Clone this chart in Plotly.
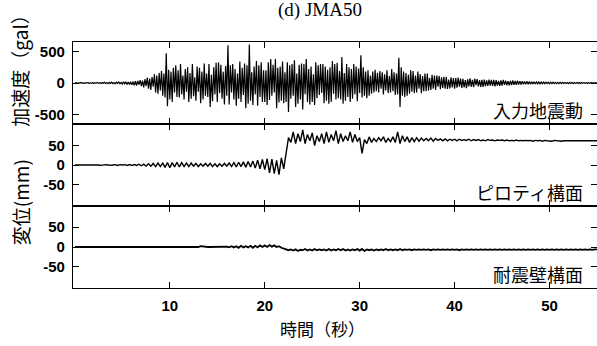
import numpy as np
import plotly.graph_objects as go
from plotly.subplots import make_subplots

# Sampling intervals of the records (s)
DT_ACCEL = 0.125
DT_DISP = 0.25

# Input ground acceleration (gal), 8 samples per second, one row per second
accel_gal = [
    0, 4, -6, 3, -2, 7, -5, 2,
    -4, 6, -3, 8, -7, 3, -5, 6,
    -8, 5, -3, 9, -6, 4, -9, 7,
    -5, 10, -8, 4, -11, 9, -6, 12,
    -10, 8, -14, 12, -7, 15, -12, 9,
    -16, 20, -12, 18, -22, 15, -25, 20,
    -30, 22, -35, 28, -40, 32, -26, 45,
    -50, 38, -70, 60, -45, 85, -90, 70,
    -110, 95, -60, 140, -150, 120, -170, 160,
    -120, 190, -200, 150, -230, 470, -370, 210,
    -260, 180, -300, 240, -150, 280, -220, 200,
    -230, 300, -180, 120, -260, 220, -140, 250,
    -300, 160, -250, 300, -210, 90, -280, 260,
    -140, 240, -320, 180, -260, 310, -200, 150,
    -220, 300, -380, 130, -290, 250, -180, 320,
    -300, 330, -160, 290, -250, 180, -340, 270,
    -200, 600, -340, 280, -150, 300, -260, 220,
    -360, 150, -250, 340, -300, 240, -190, 310,
    -400, 280, -330, 610, -280, 170, -350, 260,
    -180, 350, -360, 280, -220, 330, -300, 200,
    -300, 200, -350, 330, -270, 380, -200, 290,
    -150, 380, -400, 240, -310, 260, -280, 340,
    -320, 170, -300, 330, -460, 280, -250, 300,
    -200, 360, -380, 150, -330, 290, -260, 310,
    -420, 300, -180, 380, -300, 220, -340, 260,
    -300, 140, -350, 330, -240, 280, -190, 300,
    -160, 300, -320, 260, -280, 210, -330, 250,
    -300, 350, -170, 300, -260, 320, -240, 190,
    -260, 410, -330, 160, -280, 300, -220, 250,
    -300, 220, -250, 300, -180, 260, -290, 230,
    -160, 440, -230, 250, -200, 180, -240, 200,
    -200, 120, -170, 180, -150, 210, -130, 160,
    -150, 190, -90, 170, -180, 140, -120, 200,
    -160, 110, -150, 220, -130, 170, -190, 150,
    -180, 400, -380, 250, -200, 180, -220, 160,
    -200, 130, -170, 200, -140, 190, -160, 120,
    -150, 180, -90, 140, -160, 110, -130, 150,
    -130, 150, -120, 80, -110, 130, -90, 120,
    -110, 120, -60, 110, -100, 90, -80, 100,
    -90, 100, -95, 55, -85, 90, -70, 80,
    -90, 80, -75, 85, -60, 70, -80, 65,
    -70, 45, -80, 60, -55, 75, -60, 50,
    -65, 70, -35, 60, -55, 45, -60, 50,
    -60, 55, -50, 40, -45, 55, -40, 50,
    -45, 50, -55, 45, -40, 35, -45, 40,
    -40, 48, -30, 38, -35, 30, -38, 32,
    -35, 40, -30, 32, -28, 35, -25, 30,
    -25, 28, -22, 24, -20, 26, -18, 22,
    -18, 20, -16, 18, -15, 17, -14, 16,
    -14, 15, -12, 14, -11, 13, -10, 12,
    -12, 13, -10, 12, -9, 11, -10, 9,
    -10, 11, -9, 10, -8, 9, -7, 8,
    -9, 10, -8, 9, -7, 8, -6, 7,
    -8, 9, -7, 8, -6, 7, -6, 6,
    -7, 8, -6, 7, -5, 6, -5, 5,
    0,
]

# Piloti frame displacement (mm), 4 samples per second
disp_piloti_mm = [
    0, 0, 0, 0,
    0, 0, 0, 0,
    0, 1, 0, -1,
    0, 1, 0, -1,
    0, 1, -1, 1,
    0, 1, -1, 1,
    -1, 1, -1, 2,
    -2, 2, -3, 3,
    -3, 4, -4, 5,
    -4, 5, -6, 6,
    -7, 6, -5, 7,
    -5, 6, -4, 5,
    -4, 5, -3, 4,
    -4, 3, -3, 4,
    -3, 4, -4, 3,
    -4, 3, -3, 4,
    -3, 5, -4, 6,
    -5, 7, -4, 8,
    -6, 9, -5, 10,
    -8, 12, -10, 14,
    -12, 16, -20, 15,
    -22, 12, -25, 18,
    -10, 35, 70, 58,
    85, 55, 80, 60,
    90, 55, 78, 62,
    82, 50, 75, 60,
    80, 55, 85, 58,
    78, 62, 88, 55,
    80, 60, 75, 62,
    85, 58, 78, 60,
    70, 30, 65, 55,
    72, 58, 68, 60,
    70, 62, 72, 58,
    68, 60, 72, 58,
    85, 55, 75, 60,
    72, 58, 70, 60,
    70, 61, 69, 62,
    68, 62, 69, 61,
    68, 63, 67, 62,
    67, 62, 66, 63,
    66, 62, 66, 63,
    65, 63, 66, 62,
    65, 63, 65, 62,
    64, 62, 65, 63,
    64, 62, 64, 63,
    64, 62, 64, 62,
    63, 62, 64, 62,
    63, 62, 63, 62,
    63, 61, 63, 62,
    63, 61, 63, 62,
    62, 61, 63, 62,
    62, 61, 62, 62,
    62, 61, 62, 61,
    62, 61, 62, 61,
    62, 61, 62, 61,
    62,
]

# Shear wall frame displacement (mm), 4 samples per second
disp_wall_mm = [
    0, 0, 0, 0,
    0, 0, 0, 0,
    0, 0, 0, 0,
    0, 0, 0, 0,
    0, 0, 0, 0,
    0, 0, 0, 0,
    0, 0, 0, 0,
    0, 0, 0, 0,
    0, 0, 0, 0,
    0, 0, 0, 0,
    0, 0, 0, 0,
    0, 0, 0, 0,
    0, 0, 0, 0,
    0, 2, 1, 0,
    0, 0, 0, 0,
    0, 1, 0, 0,
    1, -1, 2, -1,
    2, -2, 3, -1,
    2, -1, 3, -2,
    3, -1, 4, 0,
    4, 0, 5, 1,
    4, 0, 2, -2,
    -4, -7, -8, -6,
    -9, -6, -10, -7,
    -8, -5, -9, -6,
    -9, -5, -8, -6,
    -8, -6, -9, -5,
    -9, -6, -8, -5,
    -8, -5, -9, -6,
    -9, -6, -8, -5,
    -9, -5, -10, -6,
    -8, -6, -9, -6,
    -8, -6, -8, -5,
    -8, -6, -8, -6,
    -8, -5, -8, -6,
    -7, -6, -8, -6,
    -7, -6, -7, -6,
    -7, -6, -8, -6,
    -7, -6, -7, -6,
    -7, -6, -7, -6,
    -7, -6, -8, -6,
    -7, -6, -7, -6,
    -7, -6, -7, -6,
    -7, -6, -7, -6,
    -7, -6, -7, -6,
    -7, -6, -7, -6,
    -7, -6, -7, -6,
    -7, -6, -7, -6,
    -7, -6, -7, -6,
    -7, -6, -7, -6,
    -7, -6, -7, -6,
    -7, -6, -7, -6,
    -7, -6, -7, -6,
    -7, -6, -7, -6,
    -7, -6, -7, -6,
    -6,
]

time_accel = np.arange(len(accel_gal)) * DT_ACCEL
time_disp = np.arange(len(disp_piloti_mm)) * DT_DISP

x_ticks = [10, 20, 30, 40, 50]
accel_ticks = [500, 0, -500]
accel_ticktext = ["500", "0", "-500"]
disp_ticks = [50, 0, -50]
disp_ticktext = ["50", "0", "-50"]

panel_labels = ["入力地震動", "ピロティ構面", "耐震壁構面"]

fig = make_subplots(rows=3, cols=1, shared_xaxes=True, vertical_spacing=0)

fig.add_trace(go.Scatter(x=time_accel, y=accel_gal, mode="lines",
                         line=dict(color="black", width=1.2)), row=1, col=1)
fig.add_trace(go.Scatter(x=time_disp, y=disp_piloti_mm, mode="lines",
                         line=dict(color="black", width=1.4)), row=2, col=1)
fig.add_trace(go.Scatter(x=time_disp, y=disp_wall_mm, mode="lines",
                         line=dict(color="black", width=1.8)), row=3, col=1)

tick_font = dict(family="Liberation Sans", size=15, color="black", weight="bold")

for r in (1, 2, 3):
    fig.update_xaxes(
        range=[-0.2, 55], tickvals=x_ticks, ticks="inside", ticklen=6,
        tickwidth=1.3, tickcolor="black", showline=True, linecolor="black",
        linewidth=1.2, mirror="ticks", showgrid=False, zeroline=False,
        tickfont=tick_font, ticklabelstandoff=4, row=r, col=1,
    )

fig.update_yaxes(range=[-650, 650], tickvals=accel_ticks, ticktext=accel_ticktext,
                 row=1, col=1)
fig.update_yaxes(range=[-105, 105], tickvals=disp_ticks, ticktext=disp_ticktext,
                 row=2, col=1)
fig.update_yaxes(range=[-103, 103], tickvals=disp_ticks, ticktext=disp_ticktext,
                 row=3, col=1)
fig.update_yaxes(ticks="inside", ticklen=6, tickwidth=1.3, tickcolor="black",
                 showline=True, linecolor="black", linewidth=1.2, mirror="ticks",
                 showgrid=False, zeroline=False, tickfont=tick_font,
                 ticklabelstandoff=4)

cjk = "Noto Sans CJK JP"
annotations = [
    dict(text="(d) JMA50", x=0.471, y=1.13, xref="paper", yref="paper",
         xanchor="center", yanchor="middle", showarrow=False,
         font=dict(family="Liberation Serif", size=19, color="black")),
    dict(text="加速度（gal）", x=-0.101, y=0.90, xref="paper", yref="paper",
         textangle=-90, xanchor="center", yanchor="middle", showarrow=False,
         font=dict(family=cjk, size=19, color="black")),
    dict(text="変位(mm)", x=-0.101, y=0.349, xref="paper", yref="paper",
         textangle=-90, xanchor="center", yanchor="middle", showarrow=False,
         font=dict(family=cjk, size=19, color="black")),
    dict(text="時間（秒）", x=0.477, y=-0.163, xref="paper", yref="paper",
         xanchor="center", yanchor="middle", showarrow=False,
         font=dict(family=cjk, size=17, color="black")),
]
for i, label in enumerate(panel_labels):
    axis_suffix = "" if i == 0 else str(i + 1)
    annotations.append(dict(
        text=label, x=0.977, y=0, xref="paper", yref=f"y{axis_suffix} domain",
        xanchor="right", yanchor="bottom", showarrow=False, yshift=-1,
        font=dict(family=cjk, size=18, color="black"),
    ))

fig.update_layout(
    width=597, height=346,
    margin=dict(l=73, r=0, t=42, b=58),
    paper_bgcolor="white", plot_bgcolor="white",
    showlegend=False,
    annotations=annotations,
)

fig.write_html("out.html")
